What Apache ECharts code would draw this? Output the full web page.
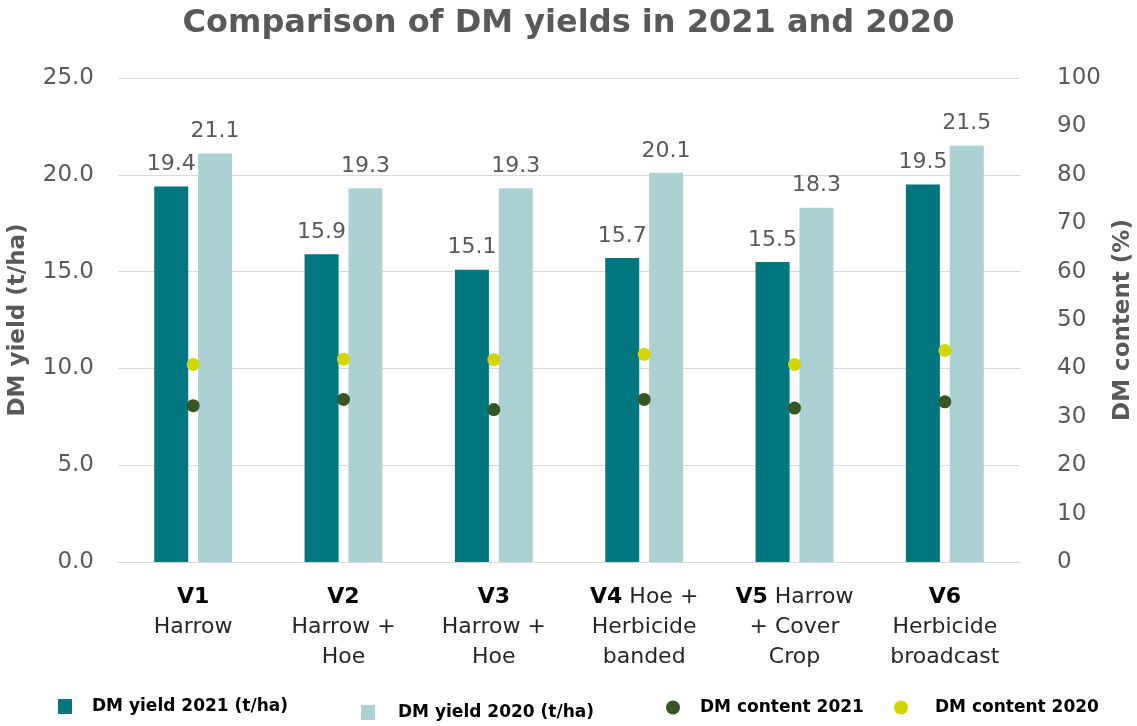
<!DOCTYPE html>
<html><head><meta charset="utf-8">
<script src="https://cdn.jsdelivr.net/npm/echarts@6/dist/echarts.min.js"></script>
<style>html,body{margin:0;padding:0;background:#fff}#c{width:1137px;height:726px}</style>
</head><body><div id="c"></div>
<script>
const codes = ['V1','V2','V3','V4','V5','V6'];
const catLabels = [
  '{b|V1}\nHarrow',
  '{b|V2}\nHarrow +\nHoe',
  '{b|V3}\nHarrow +\nHoe',
  '{b|V4} Hoe +\nHerbicide\nbanded',
  '{b|V5} Harrow\n+ Cover\nCrop',
  '{b|V6}\nHerbicide\nbroadcast'
];
const yield2021 = [19.4, 15.9, 15.1, 15.7, 15.5, 19.5];
const yield2020 = [21.1, 19.3, 19.3, 20.1, 18.3, 21.5];
const content2021 = [32.3, 33.6, 31.5, 33.6, 31.8, 33.1];
const content2020 = [40.8, 41.9, 41.8, 42.9, 40.8, 43.7];
const leftTicks = [0, 5, 10, 15, 20, 25];
const rightTicks = [0,10,20,30,40,50,60,70,80,90,100];

const FONT = 'DejaVu Sans';
const GRAY = '#595959';
const chart = echarts.init(document.getElementById('c'));
function mkLegend(name, left, top, icon, pad){
  return {data:[{name:name, icon:icon}], left:left, top:top, itemWidth:14, itemHeight:15, itemGap:0,
    textStyle:{fontFamily: FONT, fontSize: 17, fontWeight: 'bold', color: '#000', padding:[0,0,0,pad]},
    selectedMode:false, padding:0};
}
chart.setOption({
  animation: false,
  title: {text: 'Comparison of DM yields in 2021 and 2020', left: 'center', top: 3,
    textStyle: {fontFamily: FONT, fontSize: 32, fontWeight: 'bold', color: GRAY}},
  grid: {left: 118, right: 117, top: 78, bottom: 164, containLabel: false, outerBoundsMode: 'none'},
  legend: [
    mkLegend('DM yield 2021 (t/ha)', 58, 698, 'rect', 15),
    mkLegend('DM yield 2020 (t/ha)', 361, 704, 'rect', 18),
    mkLegend('DM content 2021', 666, 699, 'circle', 15),
    mkLegend('DM content 2020', 894, 699, 'circle', 22)
  ],
  xAxis: {type: 'category', data: catLabels,
    axisLine: {show: true, lineStyle: {color: '#d9d9d9'}},
    axisTick: {show: false},
    axisLabel: {interval: 0, margin: 20, fontFamily: FONT, fontSize: 22, color: '#262626', lineHeight: 30,
      rich: {b: {fontFamily: FONT, fontSize: 22, fontWeight: 'bold', color: '#000', lineHeight: 30}}}
  },
  yAxis: [
    {type: 'value', min: 0, max: 25, interval: 5, name: 'DM yield (t/ha)', nameLocation: 'middle', nameGap: 88,
     nameTextStyle: {fontFamily: FONT, fontSize: 23, fontWeight: 'bold', color: GRAY},
     axisLabel: {fontFamily: FONT, fontSize: 23, color: GRAY, margin: 24, formatter: v => v.toFixed(1)},
     axisLine: {show: false}, axisTick: {show: false},
     splitLine: {lineStyle: {color: '#d9d9d9', width: 1}}},
    {type: 'value', min: 0, max: 100, interval: 10, name: 'DM content (%)', nameLocation: 'middle', nameGap: 90,
     nameTextStyle: {fontFamily: FONT, fontSize: 23, fontWeight: 'bold', color: GRAY},
     axisLabel: {fontFamily: FONT, fontSize: 23, color: GRAY, margin: 37},
     axisLine: {show: false}, axisTick: {show: false}, splitLine: {show: false}}
  ],
  series: [
    {name: 'DM yield 2021 (t/ha)', type: 'bar', data: yield2021, barWidth: 34, barGap: '29%',
     itemStyle: {color: '#00767E'},
     label: {show: true, position: 'top', distance: 11, fontFamily: FONT, fontSize: 22, color: GRAY, formatter: p => p.value.toFixed(1)}},
    {name: 'DM yield 2020 (t/ha)', type: 'bar', data: yield2020, barWidth: 34,
     itemStyle: {color: '#ABD1D3'},
     label: {show: true, position: 'top', distance: 11, fontFamily: FONT, fontSize: 22, color: GRAY, formatter: p => p.value.toFixed(1)}},
    {name: 'DM content 2021', type: 'scatter', yAxisIndex: 1, data: content2021, symbolSize: 13,
     itemStyle: {color: '#375623', opacity: 1}, z: 5},
    {name: 'DM content 2020', type: 'scatter', yAxisIndex: 1, data: content2020, symbolSize: 13,
     itemStyle: {color: '#D4D400', opacity: 1}, z: 5}
  ]
});
</script></body></html>
